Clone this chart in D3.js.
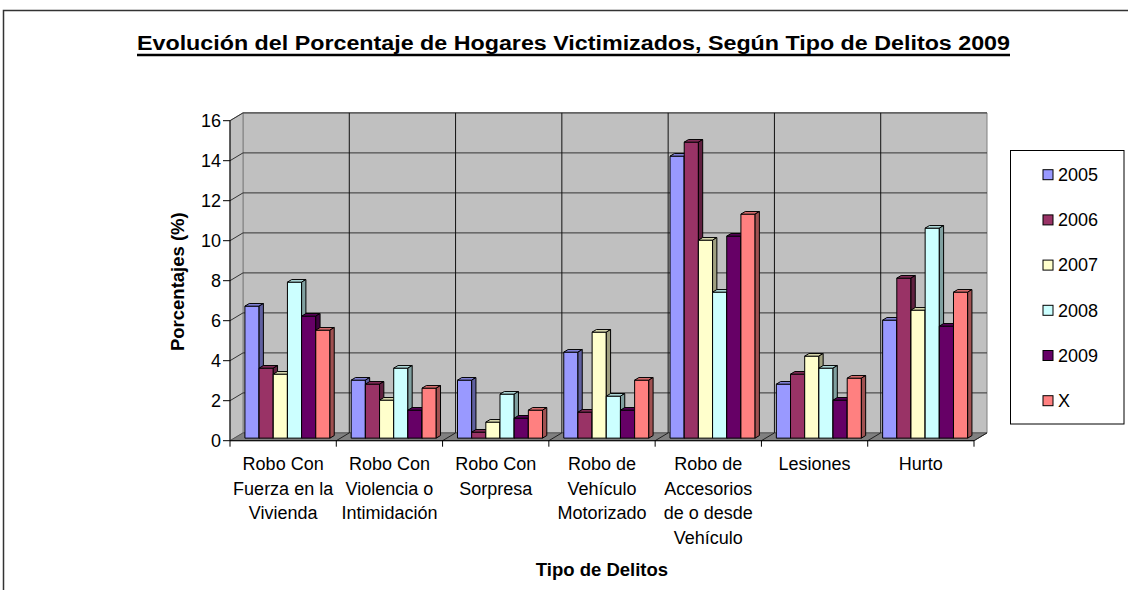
<!DOCTYPE html>
<html>
<head>
<meta charset="utf-8">
<script src="https://cdn.jsdelivr.net/npm/d3@7"></script>
<style>
  html, body { margin: 0; padding: 0; background: #fff; }
  svg { display: block; font-family: "Liberation Sans", Arial, sans-serif; }
</style>
</head>
<body>
<svg id="chart" width="1128" height="590"></svg>
<script>
// ---------------- DATA ----------------
const categories = [
  "Robo Con Fuerza en la Vivienda",
  "Robo Con Violencia o Intimidación",
  "Robo Con Sorpresa",
  "Robo de Vehículo Motorizado",
  "Robo de Accesorios de o desde Vehículo",
  "Lesiones",
  "Hurto"
];
const categoryLines = [
  ["Robo Con", "Fuerza en la", "Vivienda"],
  ["Robo Con", "Violencia o", "Intimidación"],
  ["Robo Con", "Sorpresa"],
  ["Robo de", "Vehículo", "Motorizado"],
  ["Robo de", "Accesorios", "de o desde", "Vehículo"],
  ["Lesiones"],
  ["Hurto"]
];
const seriesNames = ["2005", "2006", "2007", "2008", "2009", "X"];
const values2005 = [6.6, 2.9, 2.9, 4.3, 14.1, 2.7, 5.9];
const values2006 = [3.5, 2.7, 0.3, 1.3, 14.8, 3.2, 8.0];
const values2007 = [3.2, 1.9, 0.8, 5.3, 9.9, 4.1, 6.4];
const values2008 = [7.8, 3.5, 2.2, 2.1, 7.3, 3.5, 10.5];
const values2009 = [6.1, 1.4, 1.0, 1.4, 10.1, 1.9, 5.6];
const valuesX    = [5.4, 2.5, 1.4, 2.9, 11.2, 3.0, 7.3];
const seriesValues = [values2005, values2006, values2007, values2008, values2009, valuesX];
const seriesColors = ["#9999FF", "#993366", "#FFFFCC", "#CCFFFF", "#660066", "#FF8080"];
const yTicks = [0, 2, 4, 6, 8, 10, 12, 14, 16];
const titleText = "Evolución del Porcentaje de Hogares Victimizados, Según Tipo de Delitos 2009";
const yTitle = "Porcentajes (%)";
const xTitle = "Tipo de Delitos";

// ---------------- LAYOUT ----------------
const svg = d3.select("#chart");
const X0 = 230, Y0 = 440.7;        // front-bottom-left corner of plot
const PW = 744, PH = 320;           // front plane width / height
const DX = 13, DY = 7.8;            // depth offset (to back)
const barT0 = 0.33, barT1 = 0.66;   // bar depth range

const x = d3.scaleBand().domain(categories).range([0, PW]);
const y = d3.scaleLinear().domain([0, 16]).range([0, PH]);
const bw = x.bandwidth() / 7.5;     // 6 bars + gap 150%

function P(px, v, t) { return [X0 + px + t * DX, Y0 - y(v) - t * DY]; }
function poly(pts) { return pts.map(p => p.join(",")).join(" "); }

// outer chart border
svg.append("rect").attr("x", 3.5).attr("y", 10.5).attr("width", 1140).attr("height", 600)
  .attr("fill", "none").attr("stroke", "#333").attr("stroke-width", 1.5);

// title
const title = svg.append("text").attr("x", 573.5).attr("y", 50)
  .attr("text-anchor", "middle").attr("font-weight", "bold").attr("font-size", 19.5)
  .attr("fill", "#000").text(titleText);
const tl = title.node().getComputedTextLength();
const targetW = 873;
title.attr("textLength", targetW).attr("lengthAdjust", "spacingAndGlyphs");
svg.append("line").attr("x1", 573.5 - targetW / 2).attr("x2", 573.5 + targetW / 2)
  .attr("y1", 55).attr("y2", 55).attr("stroke", "#000").attr("stroke-width", 2.5);

// walls
const wallFill = "#C0C0C0";
// back wall
svg.append("polygon").attr("points", poly([P(0,0,1), P(PW,0,1), P(PW,16,1), P(0,16,1)]))
  .attr("fill", wallFill).attr("stroke", "#808080").attr("stroke-width", 1);
// side wall
svg.append("polygon").attr("points", poly([P(0,0,0), P(0,0,1), P(0,16,1), P(0,16,0)]))
  .attr("fill", wallFill).attr("stroke", "#808080").attr("stroke-width", 1);
// floor
svg.append("polygon").attr("points", poly([P(0,0,0), P(PW,0,0), P(PW,0,1), P(0,0,1)]))
  .attr("fill", "#808080").attr("stroke", "#555").attr("stroke-width", 1);

// horizontal gridlines (back + side wall)
yTicks.forEach(v => {
  if (v === 0) return;
  const a = P(0, v, 0), b = P(0, v, 1), c = P(PW, v, 1);
  svg.append("polyline").attr("points", poly([a, b, c]))
    .attr("fill", "none").attr("stroke", "#333").attr("stroke-width", 1);
});
// vertical gridlines on back wall & floor at category boundaries
const bounds = categories.map(c => x(c)).concat([PW]);
bounds.forEach((bx, i) => {
  if (i > 0 && i < bounds.length - 1) {
    svg.append("polyline").attr("points", poly([P(bx,0,1), P(bx,16,1)]))
      .attr("fill", "none").attr("stroke", "#111").attr("stroke-width", 1);
  }
  if (i > 0) {
    svg.append("line")
      .attr("x1", P(bx,0,0)[0]).attr("y1", P(bx,0,0)[1])
      .attr("x2", P(bx,0,1)[0]).attr("y2", P(bx,0,1)[1])
      .attr("stroke", "#222").attr("stroke-width", 1);
  }
});

// bars
const barsG = svg.append("g");
categories.forEach((cat, ci) => {
  seriesValues.forEach((vals, si) => {
    const v = vals[ci];
    const left = x(cat) + 0.75 * bw + si * bw;
    const right = left + bw;
    const col = d3.color(seriesColors[si]);
    const topCol = col.darker(0.35).formatHex();
    const sideCol = col.darker(1.3).formatHex();
    const g = barsG.append("g");
    // front
    g.append("polygon").attr("points", poly([P(left,0,barT0), P(right,0,barT0), P(right,v,barT0), P(left,v,barT0)]))
      .attr("fill", col.formatHex()).attr("stroke", "#000").attr("stroke-width", 1).attr("stroke-linejoin", "round");
    // top
    g.append("polygon").attr("points", poly([P(left,v,barT0), P(right,v,barT0), P(right,v,barT1), P(left,v,barT1)]))
      .attr("fill", topCol).attr("stroke", "#000").attr("stroke-width", 1).attr("stroke-linejoin", "round");
    // side
    g.append("polygon").attr("points", poly([P(right,0,barT0), P(right,0,barT1), P(right,v,barT1), P(right,v,barT0)]))
      .attr("fill", sideCol).attr("stroke", "#000").attr("stroke-width", 1).attr("stroke-linejoin", "round");
  });
});

// y axis line and ticks
svg.append("line").attr("x1", X0).attr("x2", X0).attr("y1", Y0).attr("y2", Y0 - PH)
  .attr("stroke", "#000").attr("stroke-width", 1);
yTicks.forEach(v => {
  const yy = Y0 - y(v);
  svg.append("line").attr("x1", X0 - 7).attr("x2", X0).attr("y1", yy).attr("y2", yy)
    .attr("stroke", "#000").attr("stroke-width", 1);
  svg.append("text").attr("x", X0 - 9).attr("y", yy).attr("dy", "0.35em")
    .attr("text-anchor", "end").attr("font-size", 18).attr("fill", "#000").text(v);
});

// x axis line and ticks
svg.append("line").attr("x1", X0).attr("x2", X0 + PW).attr("y1", Y0).attr("y2", Y0)
  .attr("stroke", "#000").attr("stroke-width", 1);
bounds.forEach(bx => {
  svg.append("line").attr("x1", X0 + bx).attr("x2", X0 + bx).attr("y1", Y0).attr("y2", Y0 + 6)
    .attr("stroke", "#000").attr("stroke-width", 1);
});
categories.forEach((cat, ci) => {
  const cx = X0 + x(cat) + x.bandwidth() / 2;
  const t = svg.append("text").attr("text-anchor", "middle").attr("font-size", 18).attr("fill", "#000");
  categoryLines[ci].forEach((ln, li) => {
    t.append("tspan").attr("x", cx).attr("y", 470 + li * 24.5).text(ln);
  });
});

// axis titles
svg.append("text").attr("transform", "translate(184,281.7) rotate(-90)")
  .attr("text-anchor", "middle").attr("font-weight", "bold").attr("font-size", 18.5)
  .attr("fill", "#000").text(yTitle);
svg.append("text").attr("x", X0 + PW / 2).attr("y", 575.7)
  .attr("text-anchor", "middle").attr("font-weight", "bold").attr("font-size", 18.5)
  .attr("fill", "#000").text(xTitle);

// legend
svg.append("rect").attr("x", 1010.5).attr("y", 150.5).attr("width", 113.5).attr("height", 273.5)
  .attr("fill", "#fff").attr("stroke", "#000").attr("stroke-width", 1);
seriesNames.forEach((name, i) => {
  const cy = 174.7 + i * 45.2;
  svg.append("rect").attr("x", 1043).attr("y", cy - 5).attr("width", 10).attr("height", 10)
    .attr("fill", seriesColors[i]).attr("stroke", "#000").attr("stroke-width", 1);
  svg.append("text").attr("x", 1058).attr("y", cy).attr("dy", "0.35em")
    .attr("font-size", 18).attr("fill", "#000").text(name);
});
</script>
</body>
</html>
